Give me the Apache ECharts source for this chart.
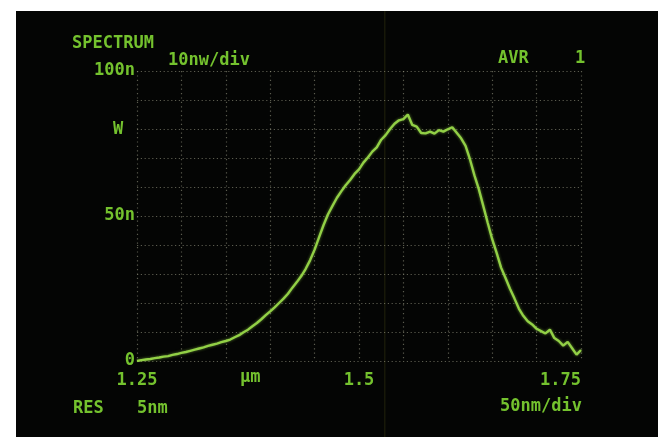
<!DOCTYPE html>
<html>
<head>
<meta charset="utf-8">
<script src="https://cdn.jsdelivr.net/npm/echarts@6/dist/echarts.min.js"></script>
<style>
  html, body { margin: 0; padding: 0; background: #ffffff; }
  #wrap { position: relative; width: 666px; height: 437px; overflow: hidden; }
  #screen { position: absolute; left: 16px; top: 11px; width: 642px; height: 426px; background: #040504; }
  #chart { position: absolute; left: 0; top: 0; width: 666px; height: 437px; }
</style>
</head>
<body>
<div id="wrap">
  <div id="screen"></div>
  <div id="chart"></div>
</div>
<script>
// Wavelength samples (µm), 5 nm apart
const wavelengthUm = [
  1.250, 1.255, 1.260, 1.265, 1.270, 1.275, 1.280, 1.285, 1.290, 1.295,
  1.300, 1.305, 1.310, 1.315, 1.320, 1.325, 1.330, 1.335, 1.340, 1.345,
  1.350, 1.355, 1.360, 1.365, 1.370, 1.375, 1.380, 1.385, 1.390, 1.395,
  1.400, 1.405, 1.410, 1.415, 1.420, 1.425, 1.430, 1.435, 1.440, 1.445,
  1.450, 1.455, 1.460, 1.465, 1.470, 1.475, 1.480, 1.485, 1.490, 1.495,
  1.500, 1.505, 1.510, 1.515, 1.520, 1.525, 1.530, 1.535, 1.540, 1.545,
  1.550, 1.555, 1.560, 1.565, 1.570, 1.575, 1.580, 1.585, 1.590, 1.595,
  1.600, 1.605, 1.610, 1.615, 1.620, 1.625, 1.630, 1.635, 1.640, 1.645,
  1.650, 1.655, 1.660, 1.665, 1.670, 1.675, 1.680, 1.685, 1.690, 1.695,
  1.700, 1.705, 1.710, 1.715, 1.720, 1.725, 1.730, 1.735, 1.740, 1.745,
  1.750
];

// Averaged optical power per sample (nW)
const powerNw = [
  0.0, 0.3, 0.5, 0.7, 1.0, 1.2, 1.5, 1.7, 2.1, 2.4,
  2.8, 3.1, 3.5, 3.9, 4.3, 4.7, 5.2, 5.6, 6.0, 6.5,
  6.9, 7.4, 8.2, 8.9, 9.9, 10.8, 12.0, 13.1, 14.4, 15.8,
  17.1, 18.5, 20.0, 21.5, 23.2, 25.3, 27.2, 29.3, 31.8, 34.8,
  38.4, 42.6, 46.8, 50.5, 53.4, 56.2, 58.5, 60.6, 62.4, 64.5,
  66.1, 68.4, 70.2, 72.2, 73.7, 76.3, 77.9, 80.0, 81.8, 83.0,
  83.4, 85.0, 81.4, 80.8, 78.6, 78.5, 79.1, 78.4, 79.6, 79.1,
  79.9, 80.6, 78.7, 76.8, 74.2, 69.5, 64.0, 59.2, 53.4, 47.6,
  42.0, 37.3, 32.2, 28.6, 24.9, 21.6, 18.1, 15.6, 13.7, 12.6,
  11.1, 10.3, 9.5, 10.8, 7.9, 6.9, 5.3, 6.6, 4.4, 2.2,
  3.8
];

// Axis ranges and the labelled ticks
const xRange = [1.25, 1.75];
const xStep = 0.05;
const xTickLabels = { '1.25': '1.25', '1.5': '1.5', '1.75': '1.75' };
const yRange = [0, 100];
const yStep = 10;
const yTickLabels = { '0': '0', '50': '50n', '100': '100n' };

const GREEN_TEXT = '#74c22e';
const TRACE = '#92d046';
const GRID_DOTS = 'rgba(150,150,130,0.6)';
const FONT = 'DejaVu Sans Mono';

const chart = echarts.init(document.getElementById('chart'), null, { renderer: 'canvas' });

const label = (t, x, y, align) => ({
  type: 'text',
  x: x, y: y,
  style: {
    text: t,
    fill: GREEN_TEXT,
    font: 'bold 17px "' + FONT + '"',
    textAlign: align || 'left',
    textVerticalAlign: 'middle'
  }
});

const option = {
  backgroundColor: 'transparent',
  animation: false,
  grid: { left: 137, top: 71, width: 444, height: 290, containLabel: false },
  xAxis: {
    type: 'value',
    min: xRange[0], max: xRange[1], interval: xStep,
    axisLine: { show: false },
    axisTick: { show: false },
    splitLine: { show: true, lineStyle: { color: GRID_DOTS, width: 1.2, type: [1.2, 3.2] } },
    axisLabel: {
      show: true,
      margin: 11,
      color: GREEN_TEXT,
      fontFamily: FONT,
      fontWeight: 'bold',
      fontSize: 17,
      showMinLabel: true,
      showMaxLabel: true,
      alignMaxLabel: 'right',
      formatter: v => xTickLabels[String(+v.toFixed(2))] || ''
    }
  },
  yAxis: {
    type: 'value',
    min: yRange[0], max: yRange[1], interval: yStep,
    axisLine: { show: false },
    axisTick: { show: false },
    splitLine: { show: true, lineStyle: { color: GRID_DOTS, width: 1.2, type: [1.2, 2.6] } },
    axisLabel: {
      show: true,
      margin: 2,
      color: GREEN_TEXT,
      fontFamily: FONT,
      fontWeight: 'bold',
      fontSize: 17,
      formatter: v => yTickLabels[String(Math.round(v))] || ''
    }
  },
  graphic: [
    // faint crease running down the display
    { type: 'rect', shape: { x: 384, y: 11, width: 1.5, height: 426 }, style: { fill: 'rgba(60,60,18,0.35)' }, z: -1 },
    label('SPECTRUM', 72, 44),
    label('10nw/div', 168, 61),
    label('AVR', 498, 59),
    label('1', 575, 59),
    label('W', 113, 130),
    label('\u00b5m', 240, 378),
    label('RES', 73, 409),
    label('5nm', 137, 409),
    label('50nm/div', 500, 407)
  ],
  series: [{
    type: 'line',
    data: wavelengthUm.map((w, i) => [w, powerNw[i]]),
    showSymbol: false,
    smooth: false,
    lineStyle: { color: TRACE, width: 2.4, shadowColor: 'rgba(146,208,70,0.6)', shadowBlur: 3 },
    z: 5
  }]
};

chart.setOption(option);
</script>
</body>
</html>
